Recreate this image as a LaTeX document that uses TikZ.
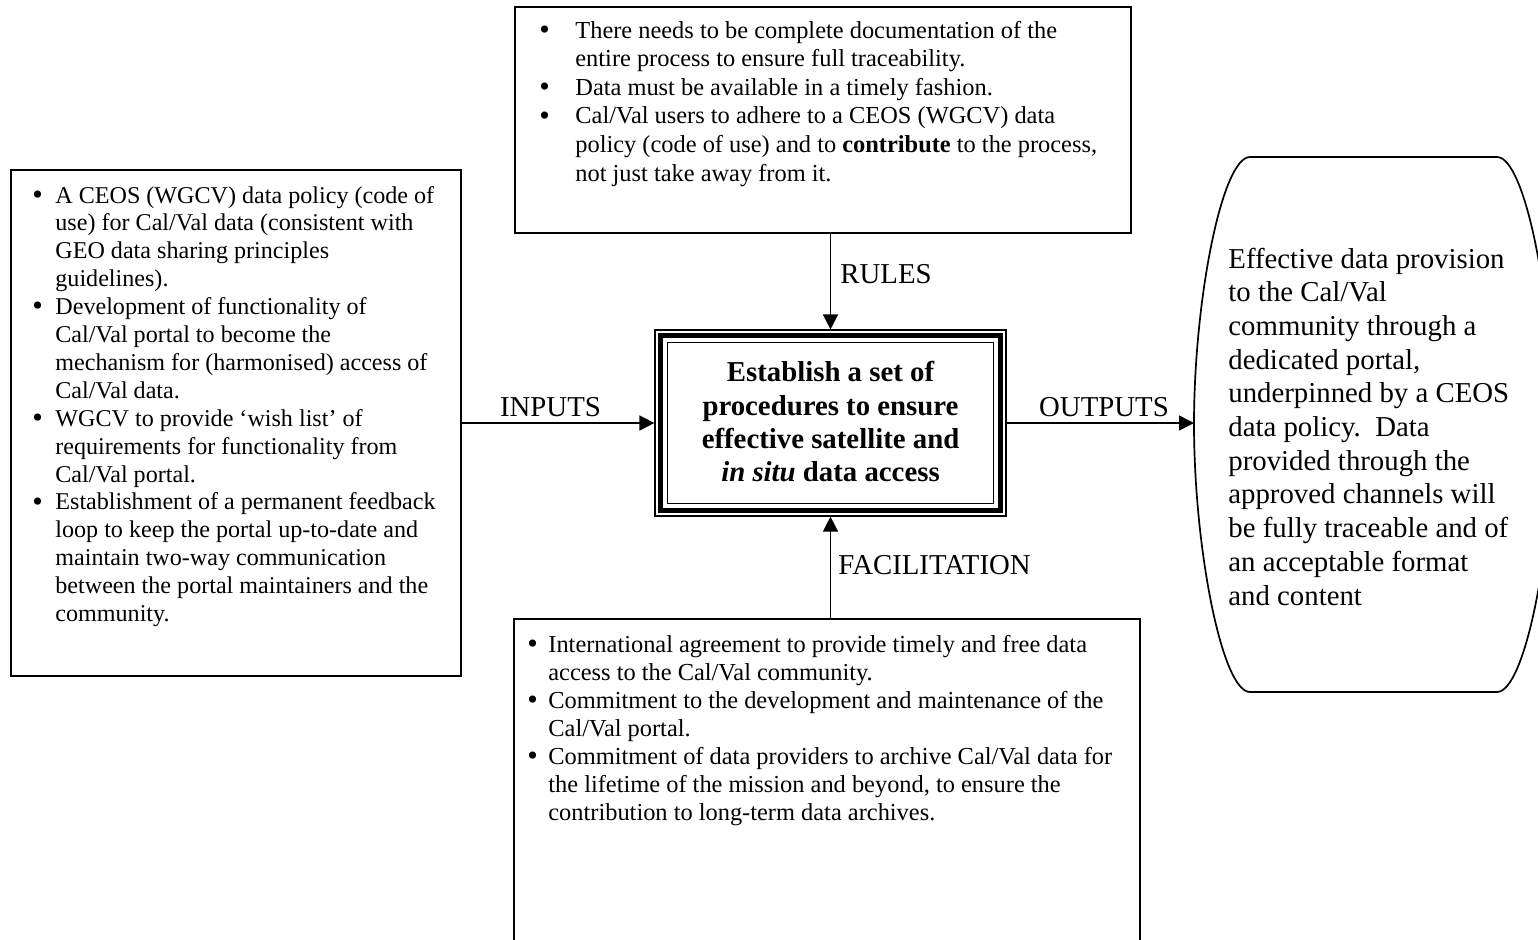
\documentclass[tikz,border=0pt]{standalone}
\usepackage{fontspec}
\setmainfont{Liberation Serif}
\usetikzlibrary{arrows.meta,calc}
% list marker, a little heavier than the text bullet
\newcommand{\listdot}{\raisebox{-0.6pt}{\fontsize{15}{15}\selectfont\textbullet}}
\begin{document}
\begin{tikzpicture}[x=0.5pt,y=-0.5pt,
  frame/.style={draw, line width=0.85pt, inner sep=0pt},
  flow/.style={draw, line width=0.75pt, -{Triangle[length=7.5pt,width=7.5pt]}},
  lbl/.style={inner sep=0pt, font=\fontsize{14.4}{16.6}\selectfont},
  txt/.style={inner sep=0pt, anchor=base west},
  bodyfont/.style={font=\fontsize{12.2}{#1}\selectfont},
]
\path[use as bounding box, clip] (0,0) rectangle (1538,939);

% surrounding boxes
\node[frame, minimum width=308pt, minimum height=113pt] (rules) at (823,120) {};
\node[frame, minimum width=225pt, minimum height=253pt] (inputs) at (236,423) {};
\node[frame, minimum width=313pt, minimum height=165.5pt] (facil) at (827,784.5) {};

% central activity box with triple border
\node[draw, line width=0.6pt, inner sep=0pt, minimum width=175.5pt, minimum height=93pt] (core) at (830.5,423) {};
\draw[line width=2.15pt] ($(core.south west)+(6,-6)$) rectangle ($(core.north east)+(-6,6)$);
\draw[line width=0.75pt] ($(core.south west)+(13.3,-13.3)$) rectangle ($(core.north east)+(-13.3,13.3)$);

% outcome shape with bulging sides
\draw[line width=0.85pt] (1250,157) -- (1497,157)
  .. controls (1525,157) and (1553,300) .. (1553,424)
  .. controls (1553,548) and (1525,692) .. (1497,692) -- (1250,692)
  .. controls (1222,692) and (1194,548) .. (1194,424)
  .. controls (1194,300) and (1222,157) .. (1250,157) -- cycle;
\coordinate (outtip) at (1194,423);

% texts
\node[txt, bodyfont=14.3] (rulestext) at (539,38) {\begin{tabular}[t]{@{}p{18pt}@{}l@{}}
\listdot & There needs to be complete documentation of the\\
 & entire process to ensure full traceability.\\
\listdot & Data must be available in a timely fashion.\\
\listdot & Cal/Val users to adhere to a CEOS (WGCV) data\\
 & policy (code of use) and to \textbf{contribute} to the process,\\
 & not just take away from it.
\end{tabular}};

\node[txt, font=\fontsize{12.05}{13.95}\selectfont] (inputstext) at (32,203) {\begin{tabular}[t]{@{}p{11.5pt}@{}l@{}}
\listdot & A CEOS (WGCV) data policy (code of\\
 & use) for Cal/Val data (consistent with\\
 & GEO data sharing principles\\
 & guidelines).\\
\listdot & Development of functionality of\\
 & Cal/Val portal to become the\\
 & mechanism for (harmonised) access of\\
 & Cal/Val data.\\
\listdot & WGCV to provide ‘wish list’ of\\
 & requirements for functionality from\\
 & Cal/Val portal.\\
\listdot & Establishment of a permanent feedback\\
 & loop to keep the portal up-to-date and\\
 & maintain two-way communication\\
 & between the portal maintainers and the\\
 & community.
\end{tabular}};

\node[txt, bodyfont=14.0] (faciltext) at (527,652) {\begin{tabular}[t]{@{}p{10.5pt}@{}l@{}}
\listdot & International agreement to provide timely and free data\\
 & access to the Cal/Val community.\\
\listdot & Commitment to the development and maintenance of the\\
 & Cal/Val portal.\\
\listdot & Commitment of data providers to archive Cal/Val data for\\
 & the lifetime of the mission and beyond, to ensure the\\
 & contribution to long-term data archives.
\end{tabular}};

\node[txt, anchor=base, font=\bfseries\fontsize{14.4}{16.65}\selectfont] (coretext) at (830.5,381.7) {\begin{tabular}[t]{@{}c@{}}
Establish a set of\\
procedures to ensure\\
effective satellite and\\
\textit{in situ} data access
\end{tabular}};

\node[txt, font=\fontsize{14.4}{16.85}\selectfont] (outtext) at (1228,268) {\begin{tabular}[t]{@{}l@{}}
Effective data provision\\
to the Cal/Val\\
community through a\\
dedicated portal,\\
underpinned by a CEOS\\
data policy.\ \ Data\\
provided through the\\
approved channels will\\
be fully traceable and of\\
an acceptable format\\
and content
\end{tabular}};

% connectors
\draw[flow] (inputs.east) -- (core.west);
\draw[flow] (core.east) -- (outtip);
\draw[flow] (core.north |- rules.south) -- (core.north);
\draw[flow] (core.south |- facil.north) -- (core.south);

% connector labels
\node[lbl, anchor=base west] (ruleslbl) at (840,283) {RULES};
\node[lbl, anchor=base] (inlbl) at (550.5,416.7) {INPUTS};
\node[lbl, anchor=base] (outlbl) at (1104,416.7) {OUTPUTS};
\node[lbl, anchor=base west] (faclbl) at (838,574) {FACILITATION};
\end{tikzpicture}
\end{document}
